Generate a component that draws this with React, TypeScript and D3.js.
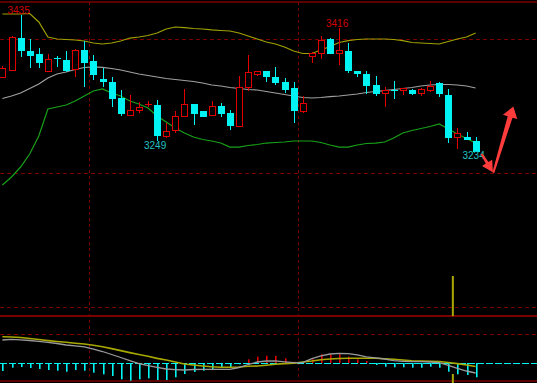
import React from 'react';
import * as d3 from 'd3';

const W = 537;
const H = 383;

// ---- candle data (index 1..53) ----
const opens = [3343.5, 3353.8, 3401, 3381.9, 3377.4, 3352.3, 3372, 3368.6, 3355.3, 3383.3, 3367.1, 3340.5, 3336.1, 3312.5, 3287.4, 3294.8, 3303.3, 3302.2, 3256.4, 3265.3, 3285.9, 3303.6, 3293.3, 3287.4, 3300.7, 3290.4, 3271.2, 3328.7, 3347.9, 3352.3, 3343.5, 3336.1, 3327.3, 3293.3, 3374.5, 3378.9, 3399.6, 3378.9, 3381.9, 3352.3, 3347.9, 3331.7, 3319.9, 3324.5, 3324.3, 3324.3, 3319.9, 3324.3, 3334.6, 3316.9, 3255, 3255, 3249];
const highs = [3359.7, 3404, 3435, 3399.6, 3386.3, 3377.4, 3374.5, 3381.9, 3384.8, 3396.6, 3376, 3356.8, 3343.5, 3324.3, 3316.9, 3306.6, 3308, 3309.5, 3275.6, 3293.3, 3325.8, 3304, 3294, 3308, 3305.1, 3294.8, 3345, 3376, 3352.5, 3352.5, 3358.2, 3342, 3336.1, 3315.4, 3380.4, 3404, 3401, 3416, 3393.7, 3352.5, 3352.3, 3345, 3328.7, 3337.6, 3327.5, 3325.8, 3327.3, 3337.6, 3336.1, 3325.8, 3268.2, 3262.3, 3255];
const lows = [3342, 3352.3, 3373, 3356.8, 3356.8, 3350.9, 3358.2, 3350.9, 3343.5, 3328.7, 3339, 3328.7, 3299.2, 3285.9, 3285.9, 3290.4, 3299.2, 3249, 3253.5, 3260.8, 3285, 3272.6, 3284.4, 3285.9, 3284.4, 3265.3, 3270, 3322.8, 3345, 3336.1, 3331.7, 3319.9, 3275.6, 3290.4, 3364.2, 3370, 3378.9, 3361.2, 3349.4, 3343.5, 3318.4, 3315.4, 3299.2, 3311, 3316.9, 3316.9, 3315.4, 3321.3, 3314, 3246, 3237, 3252, 3234];
const closes = [3356.8, 3402.5, 3383.3, 3376, 3365.6, 3370, 3371.5, 3353.8, 3383.3, 3365.6, 3347.9, 3337.6, 3312.5, 3290.4, 3294.8, 3299.2, 3303.9, 3257.9, 3263.8, 3285.9, 3303.6, 3290.4, 3285.9, 3300.7, 3290.4, 3272.6, 3328.7, 3350.9, 3352.3, 3345, 3336.1, 3325.8, 3294.8, 3305.1, 3378.9, 3398.1, 3378.9, 3383.3, 3353.8, 3349.4, 3331.7, 3319.9, 3324.3, 3324, 3327.3, 3319.9, 3325.8, 3330.2, 3319.9, 3255, 3260.8, 3252, 3234.5];

// ---- Bollinger bands ----
const bollUpper = [3436.5, 3436.5, 3436.5, 3437.2, 3424.7, 3402.5, 3399.6, 3398.8, 3398.1, 3396.6, 3393.7, 3392.2, 3393.7, 3396.6, 3401.0, 3402.5, 3404.7, 3408.4, 3414.3, 3417.3, 3416.5, 3415.1, 3414.3, 3412.9, 3412.1, 3411.4, 3408.4, 3404.0, 3399.6, 3395.1, 3392.2, 3387.8, 3381.9, 3378.2, 3378.2, 3383.3, 3388.5, 3394.4, 3397.3, 3398.8, 3399.6, 3399.6, 3399.6, 3398.8, 3397.3, 3394.4, 3393.7, 3392.9, 3392.2, 3395.9, 3399.6, 3402.5, 3408.4];
const bollMid = [3311.7, 3315.4, 3319.9, 3326.5, 3333.1, 3342.0, 3347.9, 3350.9, 3354.5, 3357.5, 3358.5, 3357.8, 3356.0, 3353.8, 3350.9, 3347.9, 3345.7, 3343.5, 3341.3, 3339.8, 3338.3, 3336.8, 3334.6, 3331.7, 3330.2, 3328.0, 3326.5, 3325.0, 3324.3, 3322.1, 3319.9, 3317.6, 3315.4, 3313.2, 3312.5, 3313.2, 3314.4, 3315.4, 3316.9, 3318.4, 3320.6, 3322.1, 3323.5, 3325.0, 3326.5, 3328.0, 3330.2, 3331.7, 3332.4, 3332.4, 3331.7, 3330.2, 3327.2];
const bollLower = [3184.0, 3195.9, 3210.6, 3229.8, 3256.4, 3296.2, 3299.2, 3302.1, 3308.0, 3315.4, 3322.8, 3325.8, 3319.9, 3315.4, 3308.0, 3303.6, 3297.7, 3285.9, 3277.0, 3268.2, 3260.8, 3254.9, 3251.2, 3249.0, 3246.0, 3240.1, 3240.1, 3242.4, 3243.8, 3246.0, 3246.8, 3247.5, 3249.0, 3249.0, 3249.0, 3246.8, 3243.1, 3240.1, 3240.1, 3243.1, 3245.3, 3246.0, 3247.5, 3253.4, 3260.8, 3264.5, 3267.5, 3270.4, 3274.1, 3266.7, 3259.3, 3252.7, 3246.0];

// ---- MACD ----
const macdHist = [-7.7, -4.4, -3.7, -4.7, -5.7, -6.7, -7.4, -8.4, -6.7, -7.4, -9.4, -11, -12.7, -16, -17.4, -16, -15, -16.7, -16.7, -14, -10.7, -8.7, -7.4, -6, -4, -4, -1, 4, 6.6, 7.6, 7.3, 5, 1.6, 0.5, 4, 9, 9, 9, 6.6, 4, 2.3, -1.7, -3.4, -4, -4, -4.4, -4.4, -3.4, -4.4, -8.4, -11, -11.7, -14];
const macdDif = [23.3, 23.9, 23.5, 22.8, 22, 20.9, 19.8, 18.3, 17.5, 16.5, 14.1, 11.8, 8.8, 5.8, 2.7, -0.2, -2.3, -4, -5.7, -6.3, -6.7, -6.2, -6, -6, -6, -6, -4.2, -1.2, 1.3, 2.3, 2.5, 1.5, 0.6, 0.6, 4.6, 7.5, 9.3, 10, 9.7, 8.5, 6.5, 5.5, 4.3, 2.6, 2, 1.6, 1.6, 1.3, 0.7, -2.1, -5.1, -7.7, -9.7];
const macdDea = [26.5, 26.3, 25.8, 24.8, 23.8, 22.7, 21.8, 21.1, 20.1, 19.3, 18, 16.5, 14.7, 12.7, 10.7, 8.8, 7, 4.9, 3.3, 1.3, -0.7, -1.7, -2.7, -3.5, -4, -4, -3.7, -3, -2.7, -1.9, -0.9, -0.3, 0, 1.3, 2.3, 3.6, 4.3, 4.8, 5, 5, 5, 5, 4.5, 4, 3.3, 2.6, 2.3, 2.1, 1.8, 0.8, -0.3, -1.7, -3.2];

// ---- annotations ----
const extremeIdx = [3, 18, 38, 53];
const extremeKind = ['high', 'low', 'high', 'low'];
const extremeText = ['3435', '3249', '3416', '3234'];
const priceGrid = [3400, 3202, 3004];
const macdGrid = [29.3];
const dividerIdx = [10.5, 33.5];
const markerIdx = 50.5;
const arrowSmall = [[53.65, 3230], [54.9, 3203]];
const arrowBig = [[54.95, 3202], [57.14, 3300]];

const UP = '#e00000';
const DOWN = '#00f4f4';
const GRID = '#7a0000';

function arrowPath(x1: number, y1: number, x2: number, y2: number, w1: number, w2: number, hl: number, hw: number) {
  const dx = x2 - x1, dy = y2 - y1;
  const L = Math.hypot(dx, dy);
  const ux = dx / L, uy = dy / L;
  const nx = -uy, ny = ux;
  const bx = x2 - ux * hl, by = y2 - uy * hl;
  const pts = [
    [x1 + nx * w1 / 2, y1 + ny * w1 / 2],
    [bx + nx * w2 / 2, by + ny * w2 / 2],
    [bx + nx * hw / 2, by + ny * hw / 2],
    [x2, y2],
    [bx - nx * hw / 2, by - ny * hw / 2],
    [bx - nx * w2 / 2, by - ny * w2 / 2],
    [x1 - nx * w1 / 2, y1 - ny * w1 / 2],
  ];
  return 'M' + pts.map(p => p[0].toFixed(1) + ',' + p[1].toFixed(1)).join('L') + 'Z';
}

export default function App() {
  const x = d3.scaleLinear().domain([1, 53]).range([2.4, 475.6]);
  const y = d3.scaleLinear().domain([3249, 3435]).range([141, 15]);
  const ym = d3.scaleLinear().domain([0, 10]).range([363.3, 353.3]);

  const bandLine = d3.line<number>().x((_, i) => x(i + 1)).y(d => y(d));
  const macdLine = d3.line<number>().x((_, i) => x(i + 1)).y(d => ym(d));

  const candles = opens.map((o, i) => {
    const c = closes[i], h = highs[i], l = lows[i];
    const cx = Math.round(x(i + 1)) + 0.5;
    const up = c > o;
    const col = up ? UP : DOWN;
    const yt = Math.round(y(Math.max(o, c)));
    const yb = Math.round(y(Math.min(o, c)));
    const yh = Math.round(y(h));
    const yl = Math.round(y(l));
    const bh = yb - yt;
    return (
      <g key={i}>
        {up ? (
          <>
            <line x1={cx} x2={cx} y1={yh} y2={yt} stroke={col} />
            <line x1={cx} x2={cx} y1={yb} y2={yl} stroke={col} />
          </>
        ) : (
          <line x1={cx} x2={cx} y1={yh} y2={yl} stroke={col} />
        )}
        {bh < 1 ? (
          <line x1={cx - 3.5} x2={cx + 3.5} y1={yt + 0.5} y2={yt + 0.5} stroke={col} />
        ) : (
          <rect x={cx - 3} y={yt + 0.5} width={6} height={bh} fill={up ? '#000' : col} stroke={col} />
        )}
      </g>
    );
  });

  const zeroY = Math.round(ym(0));

  return (
    <svg width={W} height={H} style={{ position: 'fixed', left: 0, top: 0, display: 'block' }}>
      <rect x={0} y={0} width={W} height={H} fill="#000" />
      {/* frame lines */}
      <line x1={0} x2={W} y1={2} y2={2} stroke={GRID} strokeWidth={1.5} />
      <line x1={0} x2={W} y1={316} y2={316} stroke={GRID} strokeWidth={2} />
      <line x1={0} x2={W} y1={381} y2={381} stroke={GRID} strokeWidth={1.5} />
      {priceGrid.map((p, i) => (
        <line key={'pg' + i} x1={0} x2={W} y1={Math.round(y(p)) + 0.5} y2={Math.round(y(p)) + 0.5} stroke={GRID} strokeDasharray="4,3" />
      ))}
      {macdGrid.map((v, i) => (
        <line key={'mg' + i} x1={0} x2={W} y1={Math.round(ym(v)) + 0.5} y2={Math.round(ym(v)) + 0.5} stroke={GRID} strokeDasharray="4,3" />
      ))}
      {dividerIdx.map((d, i) => (
        <line key={'dv' + i} x1={Math.round(x(d)) + 0.5} x2={Math.round(x(d)) + 0.5} y1={2} y2={381} stroke={GRID} strokeDasharray="3,3" />
      ))}
      {/* marker line */}
      <line x1={x(markerIdx)} x2={x(markerIdx)} y1={276} y2={316} stroke="#a8a800" strokeWidth={2} />
      <line x1={x(markerIdx)} x2={x(markerIdx)} y1={374} y2={383} stroke="#a8a800" strokeWidth={2} />

      {/* Bollinger */}
      <path d={bandLine(bollUpper) || ''} fill="none" stroke="#a0a000" strokeWidth={1.2} />
      <path d={bandLine(bollMid) || ''} fill="none" stroke="#a0a0a0" strokeWidth={1.2} />
      <path d={bandLine(bollLower) || ''} fill="none" stroke="#18a018" strokeWidth={1.2} />

      {candles}

      {/* extreme labels */}
      {extremeIdx.map((idx, k) => {
        const isHigh = extremeKind[k] === 'high';
        const yy = isHigh ? y(highs[idx - 1]) - 1 : y(lows[idx - 1]) + 8;
        return (
          <text key={'lb' + k} x={x(idx) - 2} y={yy} textAnchor="middle" fontFamily="'Liberation Sans', Arial, sans-serif" fontSize={10}
            fill={isHigh ? '#d00000' : '#20c0c0'}>{extremeText[k]}</text>
        );
      })}

      {/* MACD */}
      <line x1={0} x2={W} y1={zeroY + 0.5} y2={zeroY + 0.5} stroke={DOWN} strokeDasharray="7,2" />
      {macdHist.map((v, i) => {
        const cx = Math.round(x(i + 1));
        const yv = ym(v);
        return (
          <rect key={'h' + i} x={cx} y={Math.min(yv, zeroY)} width={1.6} height={Math.abs(yv - zeroY)} fill={v >= 0 ? UP : DOWN} />
        );
      })}
      <path d={macdLine(macdDea) || ''} fill="none" stroke="#a8a800" strokeWidth={1.6} />
      <path d={macdLine(macdDif) || ''} fill="none" stroke="#9a9a9a" strokeWidth={1.3} />

      {/* arrows */}
      <path d={arrowPath(x(arrowSmall[0][0]), y(arrowSmall[0][1]), x(arrowSmall[1][0]), y(arrowSmall[1][1]), 2, 3, 11, 12)} fill="#ff3c3c" />
      <path d={arrowPath(x(arrowBig[0][0]), y(arrowBig[0][1]), x(arrowBig[1][0]), y(arrowBig[1][1]), 2, 5, 11, 15)} fill="#ff3c3c" />
    </svg>
  );
}
